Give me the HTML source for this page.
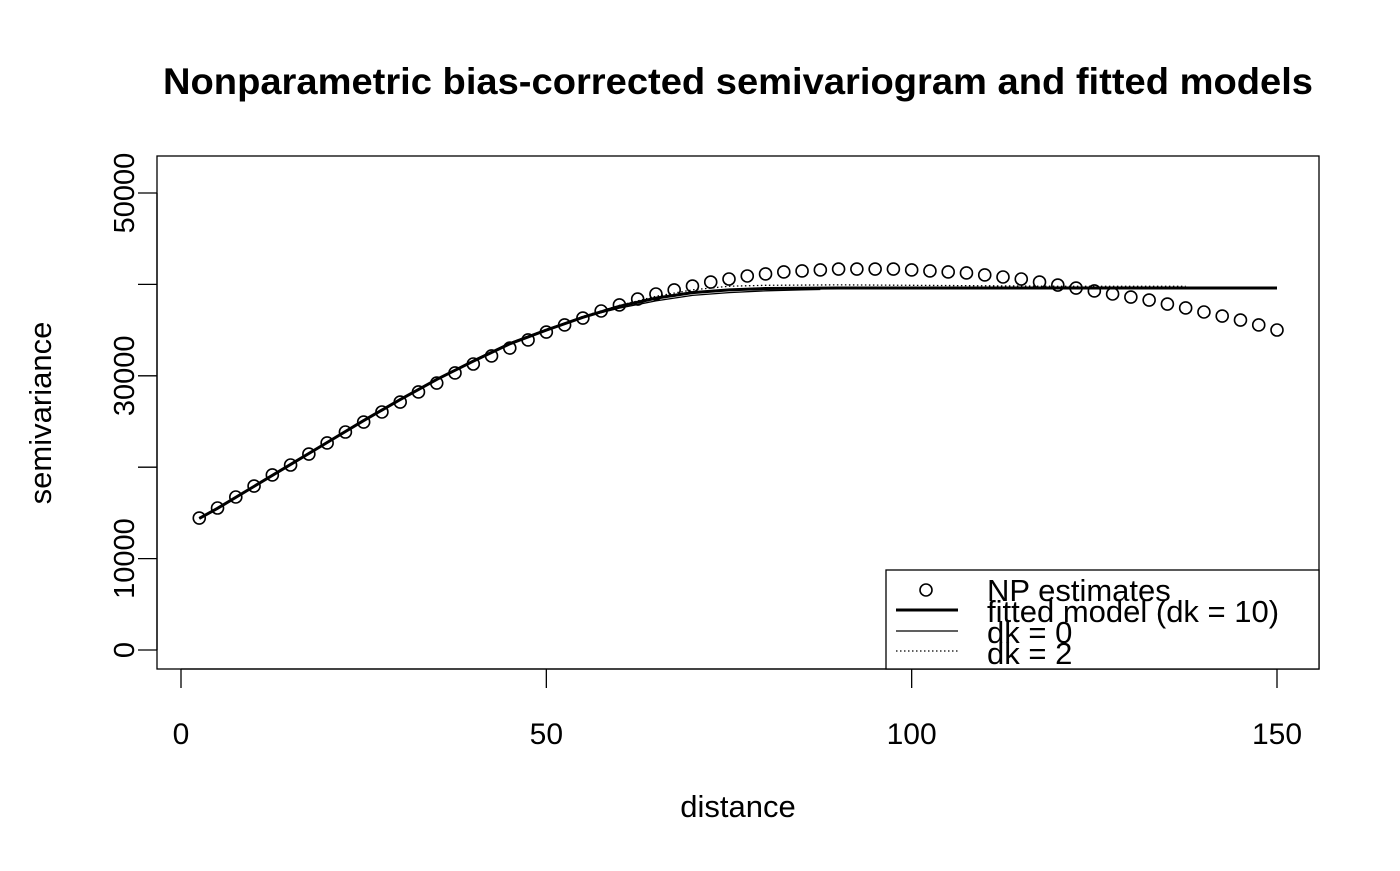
<!DOCTYPE html>
<html><head><meta charset="utf-8"><style>
html,body{margin:0;padding:0;background:#fff}
svg text{font-family:"Liberation Sans",Arial,sans-serif;fill:#000}
</style></head><body>
<svg id="chart" width="1400" height="866" xmlns="http://www.w3.org/2000/svg">
<text x="738" y="94" text-anchor="middle" font-size="37" font-weight="bold" textLength="1150" lengthAdjust="spacingAndGlyphs">Nonparametric bias-corrected semivariogram and fitted models</text>
<rect x="157" y="156" width="1162" height="513" fill="none" stroke="#000" stroke-width="1.3"/>
<g id="xaxis"></g>
<g id="yaxis"></g>
<text x="738" y="817" text-anchor="middle" font-size="31">distance</text>
<text transform="translate(51,413) rotate(-90)" text-anchor="middle" font-size="31">semivariance</text>
<g id="series"></g>
<g>
<rect x="886" y="570" width="433" height="99" fill="#fff" stroke="#000" stroke-width="1.3"/>
<circle cx="926" cy="590" r="6" fill="none" stroke="#000" stroke-width="1.6"/>
<text x="987" y="601" font-size="31">NP estimates</text>
<line x1="896" y1="610" x2="958" y2="610" stroke="#000" stroke-width="3"/>
<text x="987" y="622" font-size="31">fitted model (dk = 10)</text>
<line x1="896" y1="631" x2="958" y2="631" stroke="#000" stroke-width="1.3"/>
<text x="987" y="643" font-size="31">dk = 0</text>
<line x1="896" y1="651" x2="958" y2="651" stroke="#000" stroke-width="1.3" stroke-dasharray="1.5,2.5"/>
<text x="987" y="664" font-size="31">dk = 2</text>
</g>
</svg>
<script>
const xTicks=[0,50,100,150];
const yTicks=[0,10000,30000,50000];
const npX=[2.5,5,7.5,10,12.5,15,17.5,20,22.5,25,27.5,30,32.5,35,37.5,40,42.5,45,47.5,50,52.5,55,57.5,60,62.5,65,67.5,70,72.5,75,77.5,80,82.5,85,87.5,90,92.5,95,97.5,100,102.5,105,107.5,110,112.5,115,117.5,120,122.5,125,127.5,130,132.5,135,137.5,140,142.5,145,147.5,150];
const npY=[14440,15535,16740,17940,19150,20240,21440,22650,23850,24940,26040,27130,28230,29210,30310,31290,32170,33040,33920,34790,35560,36320,37090,37750,38400,38950,39390,39820,40260,40590,40920,41140,41360,41470,41580,41680,41680,41680,41680,41580,41470,41360,41250,41030,40810,40590,40260,39930,39600,39280,38950,38620,38290,37850,37420,36980,36540,36100,35560,35010];
const fitX=[2.5,5,10,15,20,25,30,35,40,45,50,55,60,65,70,75,80,90,100,110,120,130,140,150];
const fitY=[14400,15500,17900,20300,22700,25100,27400,29600,31600,33500,35000,36400,37600,38500,39100,39400,39550,39600,39600,39600,39600,39600,39600,39600];
const dk0X=[2.5,5,10,15,20,25,30,35,40,45,50,55,60,65,70,75,80,85,87.5];
const dk0Y=[14400,15500,17900,20300,22700,25100,27400,29600,31700,33600,35100,36400,37400,38200,38800,39100,39300,39400,39450];
const dk2X=[2.5,5,10,15,20,25,30,35,40,45,50,55,60,65,70,75,80,90,100,110,120,130,137.5];
const dk2Y=[14400,15500,17900,20300,22700,25100,27400,29600,31600,33500,35000,36500,37700,38700,39400,39800,39900,39950,39900,39850,39800,39800,39800];
const X=v=>181+v*(1277-181)/150;
const Y=v=>650-v*(650-193)/50000;
const NS="http://www.w3.org/2000/svg";
function mk(t,a,p){const e=document.createElementNS(NS,t);for(const k in a)e.setAttribute(k,a[k]);p.appendChild(e);return e;}
const xa=document.getElementById('xaxis'),ya=document.getElementById('yaxis'),sg=document.getElementById('series');
mk('line',{x1:X(0),y1:669,x2:X(150),y2:669,stroke:'#000','stroke-width':1.3},xa);
xTicks.forEach(t=>{
 const l=mk('line',{x1:X(t),y1:669,x2:X(t),y2:688,stroke:'#000','stroke-width':1.3},xa);
 
 
 const tx=mk('text',{x:X(t),y:744,'text-anchor':'middle','font-size':30},xa);tx.textContent=t;
 
 
});
mk('line',{x1:157,y1:Y(0),x2:157,y2:Y(50000),stroke:'#000','stroke-width':1.3},ya);
const yAll=[0,10000,20000,30000,40000,50000];
yAll.forEach(t=>{
 const l=mk('line',{x1:138,y1:Y(t),x2:157,y2:Y(t),stroke:'#000','stroke-width':1.3},ya);
 
 
});
yTicks.forEach(t=>{
 const tx=mk('text',{transform:`translate(134,${Y(t)}) rotate(-90)`,'text-anchor':'middle','font-size':29},ya);tx.textContent=t;
 
 
});
function line(xs,ys,w,dash,name){
 const p=mk('polyline',{points:xs.map((x,i)=>X(x)+','+Y(ys[i])).join(' '),fill:'none',stroke:'#000','stroke-width':w},sg);
 if(dash)p.setAttribute('stroke-dasharray',dash);
 
 
}
line(dk0X,dk0Y,1.3,null,'dk0-line');
line(dk2X,dk2Y,1.3,'1.5,2.5','dk2-line');
line(fitX,fitY,3,null,'fitted-model-line');
npX.forEach((x,i)=>{
 const c=mk('circle',{cx:X(x),cy:Y(npY[i]),r:6,fill:'none',stroke:'#000','stroke-width':1.6},sg);
 
 
});
</script>
</body></html>
